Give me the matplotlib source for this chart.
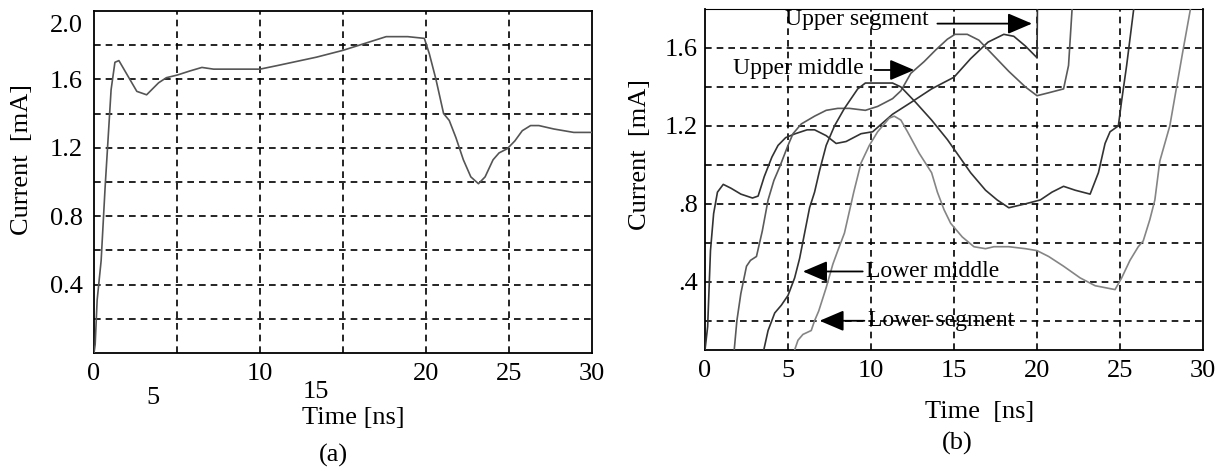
import matplotlib
matplotlib.use("Agg")
import matplotlib.pyplot as plt
from matplotlib.transforms import ScaledTranslation

plt.rcParams["font.family"] = ["Liberation Serif", "DejaVu Serif"]

# ---- panel (a): single current waveform ----
time_a = [0.0, 0.07, 0.19, 0.43, 0.67, 1.03, 1.26, 1.5, 1.98, 2.58, 3.17, 3.89,
          4.36, 5.0, 5.8, 6.5, 7.2, 7.7, 8.66, 10.0, 11.0, 13.4, 15.0, 16.3,
          17.6, 18.9, 19.9, 20.2, 20.6, 21.06, 21.4, 21.8, 22.25, 22.7, 23.16,
          23.56, 24.04, 24.4, 24.9, 25.35, 25.8, 26.3, 26.8, 27.7, 28.9, 30.0]
current_a = [0.0, 0.05, 0.31, 0.54, 0.97, 1.54, 1.70, 1.71, 1.63, 1.53, 1.51, 1.58,
             1.61, 1.625, 1.65, 1.67, 1.66, 1.66, 1.66, 1.66, 1.68, 1.73, 1.77, 1.81,
             1.85, 1.85, 1.84, 1.75, 1.60, 1.40, 1.36, 1.26, 1.13, 1.03, 0.99,
             1.03, 1.13, 1.17, 1.195, 1.24, 1.30, 1.33, 1.33, 1.31, 1.29, 1.29]
xticks_a = [0, 10, 20, 25, 30]
yticks_a = [0.4, 0.8, 1.2, 1.6, 2.0]
yticklabels_a = ["0.4", "0.8", "1.2", "1.6", "2.0"]

# ---- panel (b): segment currents ----
time_upper_seg = [0.0, 0.16, 0.33, 0.52, 0.75, 1.1, 1.57, 2.16, 2.86, 3.2, 3.57,
                  4.03, 4.4, 4.86, 5.44, 6.15, 6.6, 7.3, 7.9, 8.5, 9.4, 10.1, 11.3,
                  12.4, 13.65, 15.0, 16.0, 17.05, 18.0, 18.6, 19.3, 20.0, 20.03]
current_upper_seg = [0.05, 0.17, 0.56, 0.75, 0.86, 0.90, 0.88, 0.85, 0.83, 0.84, 0.94,
                     1.04, 1.10, 1.14, 1.16, 1.18, 1.18, 1.15, 1.11, 1.12, 1.16, 1.17, 1.26,
                     1.32, 1.39, 1.45, 1.545, 1.63, 1.67, 1.66, 1.61, 1.55, 1.85]

time_upper_mid = [1.76, 1.92, 2.16, 2.5, 2.74, 3.1, 3.45, 3.8, 4.15, 4.5, 5.0, 5.3,
                  5.8, 6.6, 7.3, 8.0, 8.7, 9.66, 10.4, 11.3, 11.8, 12.4, 13.2, 13.9,
                  14.6, 15.06, 15.8, 16.5, 17.4, 18.3, 19.3, 20.0, 20.7, 21.6, 21.9, 22.15]
current_upper_mid = [0.05, 0.2, 0.34, 0.48, 0.51, 0.53, 0.66, 0.82, 0.92, 0.99, 1.10, 1.16,
                     1.21, 1.25, 1.28, 1.29, 1.29, 1.28, 1.30, 1.34, 1.38, 1.47, 1.53, 1.59,
                     1.645, 1.67, 1.67, 1.64, 1.56, 1.48, 1.40, 1.355, 1.37, 1.39, 1.51, 1.85]

time_lower_mid = [3.54, 3.8, 4.2, 4.6, 5.0, 5.4, 5.7, 6.0, 6.3, 6.6, 6.9, 7.3, 7.8,
                  8.4, 9.2, 9.66, 11.3, 11.8, 12.7, 13.65, 14.6, 15.3, 16.0, 16.9,
                  17.6, 18.3, 19.3, 20.2, 20.9, 21.6, 22.3, 23.2, 23.7, 24.1, 24.4,
                  24.9, 25.1, 25.4, 25.9]
current_lower_mid = [0.05, 0.15, 0.24, 0.28, 0.33, 0.42, 0.52, 0.65, 0.78, 0.86, 0.97,
                     1.10, 1.20, 1.29, 1.39, 1.42, 1.42, 1.40, 1.32, 1.23, 1.13, 1.045,
                     0.96, 0.87, 0.82, 0.78, 0.80, 0.82, 0.86, 0.89, 0.87, 0.85, 0.96,
                     1.11, 1.17, 1.2, 1.33, 1.51, 1.85]

time_lower_seg = [5.4, 5.6, 5.9, 6.4, 6.6, 6.85, 7.3, 7.7, 8.0, 8.4, 8.96, 9.4, 9.9,
                  10.4, 11.1, 11.4, 11.8, 12.2, 12.9, 13.65, 14.0, 14.4, 14.8, 15.5,
                  16.2, 16.9, 17.4, 18.3, 19.3, 20.0, 20.7, 21.6, 22.6, 23.5, 24.7,
                  25.1, 25.6, 26.1, 26.4, 26.8, 27.1, 27.4, 27.7, 28.0, 28.8, 29.35]
current_lower_seg = [0.05, 0.10, 0.13, 0.15, 0.20, 0.25, 0.37, 0.49, 0.56, 0.65, 0.86,
                     1.01, 1.10, 1.17, 1.24, 1.25, 1.23, 1.17, 1.06, 0.96, 0.86, 0.77,
                     0.70, 0.63, 0.58, 0.57, 0.58, 0.58, 0.57, 0.56, 0.53, 0.48, 0.42,
                     0.38, 0.36, 0.42, 0.51, 0.58, 0.61, 0.72, 0.82, 1.02, 1.11, 1.20,
                     1.59, 1.85]

xticks_b = [0, 5, 10, 15, 20, 25, 30]
yticks_b = [0.4, 0.8, 1.2, 1.6]
yticklabels_b = [".4", ".8", "1.2", "1.6"]

segment_labels = ["Upper segment", "Upper middle", "Lower middle", "Lower segment"]

W, H = 1230, 471
fig = plt.figure(figsize=(W / 100, H / 100), dpi=100)
fig.patch.set_facecolor("white")


def px_axes(left, top, right, bottom):
    return fig.add_axes([left / W, 1 - bottom / H, (right - left) / W, (bottom - top) / H])


def style_axes(ax, ygrid):
    for s in ax.spines.values():
        s.set_linewidth(1.3)
        s.set_color("black")
    for g in [5, 10, 15, 20, 25]:
        ax.axvline(g, color="black", lw=1.2, ls=(0, (4, 3)), zorder=1)
    for g in ygrid:
        ax.axhline(g, color="black", lw=1.2, ls=(0, (4, 3)), zorder=1)
    ax.tick_params(length=0, labelsize=FS)


FS = 19      # axis text
FS_NOTE = 17  # segment annotations

# ---------------- panel (a) ----------------
ax1 = px_axes(94, 11, 592, 353)
ax1.plot(time_a, current_a, color="#555555", lw=1.2, zorder=3,
         solid_joinstyle="round")
ax1.set_xlim(0, 30)
ax1.set_ylim(0, 2.0)
style_axes(ax1, [0.2, 0.4, 0.6, 0.8, 1.0, 1.2, 1.4, 1.6, 1.8])
ax1.set_xticks(xticks_a)
ax1.set_xticklabels([str(t) for t in xticks_a])
ax1.set_yticks(yticks_a)
ax1.set_yticklabels(yticklabels_a)
ax1.tick_params(axis="x", pad=7)
ax1.tick_params(axis="y", pad=8)
top_lbl = ax1.get_yticklabels()[-1]
top_lbl.set_va("top")
top_lbl.set_transform(top_lbl.get_transform() + ScaledTranslation(0, -3 / 72, fig.dpi_scale_trans))

fig.text(153 / W, 1 - 398 / H, "5", fontsize=FS, ha="center", va="center")
fig.text(316 / W, 1 - 392 / H, "15", fontsize=FS, ha="center", va="center")
fig.text(353 / W, 1 - 418 / H, "Time [ns]", fontsize=FS, ha="center", va="center")
fig.text(333 / W, 1 - 455 / H, "(a)", fontsize=FS, ha="center", va="center")
fig.text(22 / W, 1 - 160 / H, "Current  [mA]", fontsize=FS, rotation=90,
         ha="center", va="center")

# ---------------- panel (b) ----------------
ax2 = px_axes(705, 9, 1203, 350)
series_b = [
    (time_upper_seg, current_upper_seg, "#333333"),
    (time_upper_mid, current_upper_mid, "#5a5a5a"),
    (time_lower_mid, current_lower_mid, "#333333"),
    (time_lower_seg, current_lower_seg, "#858585"),
]
for t, c, col in series_b:
    ax2.plot(t, c, color=col, lw=1.2, zorder=3, solid_joinstyle="round")
ax2.set_xlim(0, 30)
ax2.set_ylim(0.05, 1.8)
style_axes(ax2, [0.2, 0.4, 0.6, 0.8, 1.0, 1.2, 1.4, 1.6, 1.8])
ax2.spines["top"].set_linewidth(0.8)
ax2.set_xticks(xticks_b)
ax2.set_xticklabels([str(t) for t in xticks_b])
ax2.set_yticks(yticks_b)
ax2.set_yticklabels(yticklabels_b)
ax2.tick_params(axis="x", pad=7)
ax2.tick_params(axis="y", pad=5)

arrow_kw = dict(arrowstyle="-|>,head_length=0.75,head_width=0.32", mutation_scale=20,
                color="black", lw=1.3, shrinkA=0, shrinkB=0)
text_pos = [(4.8, 1.744), (1.68, 1.497), (9.72, 0.453), (9.8, 0.20)]
arrow_tail = [(14.0, 1.725), (10.2, 1.487), (9.5, 0.453), (9.6, 0.20)]
arrow_tip = [(19.7, 1.725), (12.6, 1.487), (5.9, 0.453), (6.9, 0.20)]
for lbl, tp, a0, a1 in zip(segment_labels, text_pos, arrow_tail, arrow_tip):
    ax2.text(tp[0], tp[1], lbl, fontsize=FS_NOTE, ha="left", va="center", zorder=5)
    ax2.annotate("", xy=a1, xytext=a0, arrowprops=arrow_kw, zorder=5)

fig.text(980 / W, 1 - 412 / H, "Time  [ns]", fontsize=FS, ha="center", va="center")
fig.text(957 / W, 1 - 443 / H, "(b)", fontsize=FS, ha="center", va="center")
fig.text(640 / W, 1 - 155 / H, "Current  [mA]", fontsize=FS, rotation=90,
         ha="center", va="center")

fig.savefig("out.png", dpi=100, facecolor="white")
